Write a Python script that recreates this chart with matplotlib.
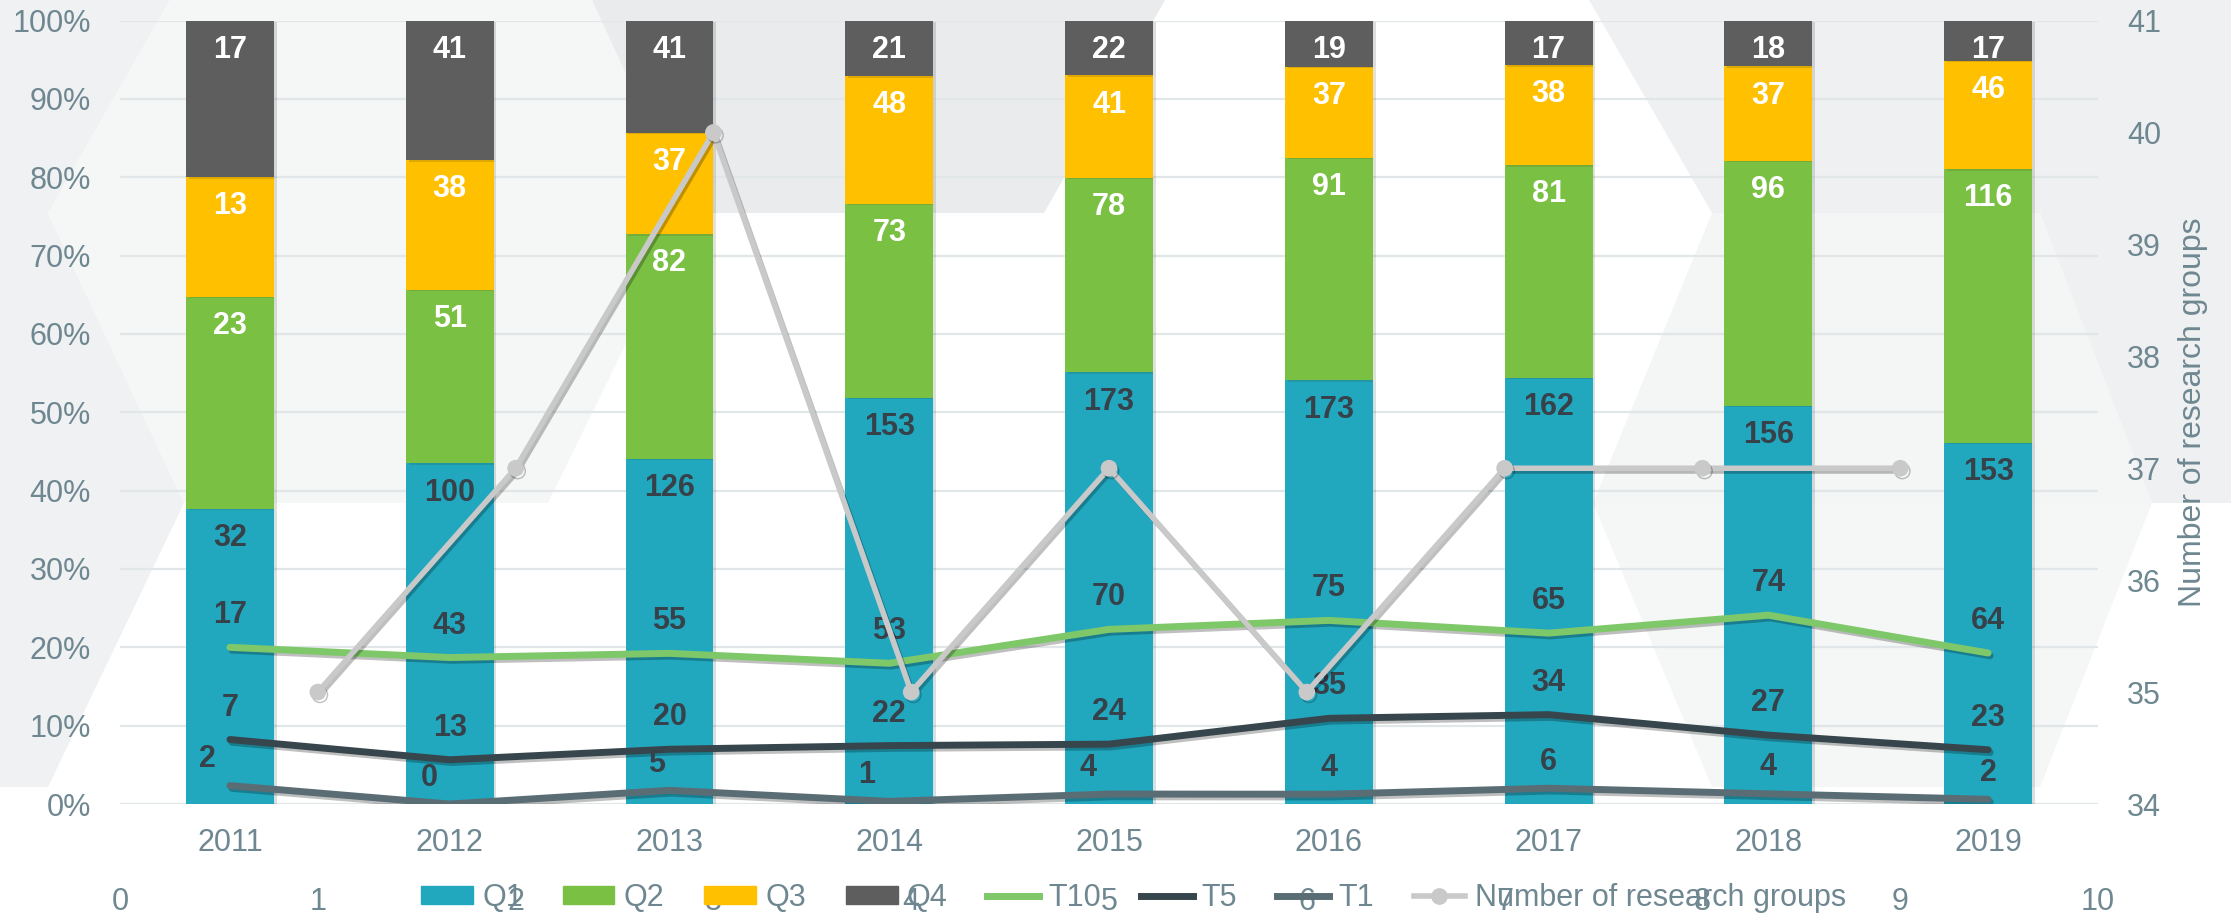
import numpy as np
import matplotlib
matplotlib.use("Agg")
import matplotlib.pyplot as plt
from matplotlib.patches import Polygon, Patch
from matplotlib.lines import Line2D
from matplotlib.ticker import PercentFormatter
from matplotlib import patheffects as pe

# data
years = ["2011", "2012", "2013", "2014", "2015", "2016", "2017", "2018", "2019"]
q1 = [32, 100, 126, 153, 173, 173, 162, 156, 153]
q2 = [23, 51, 82, 73, 78, 91, 81, 96, 116]
q3 = [13, 38, 37, 48, 41, 37, 38, 37, 46]
q4 = [17, 41, 41, 21, 22, 19, 17, 18, 17]
t10 = [17, 43, 55, 53, 70, 75, 65, 74, 64]
t5 = [7, 13, 20, 22, 24, 35, 34, 27, 23]
t1 = [2, 0, 5, 1, 4, 4, 6, 4, 2]
groups = [35, 37, 40, 35, 37, 35, 37, 37, 37]

# colours
C_Q1, C_Q2, C_Q3, C_Q4 = "#21A8BF", "#7AC043", "#FFC000", "#5E5E5E"
C_T10, C_T5, C_T1 = "#7FC86A", "#37464D", "#5A6D75"
C_GRP = "#C9C9C9"
C_TXT = "#6E8790"
C_DARK = "#37414A"

plt.rcParams['font.family'] = ['Liberation Sans', 'DejaVu Sans']

W, H = 2231, 917
fig = plt.figure(figsize=(W / 100, H / 100), dpi=100)
fig.patch.set_facecolor("white")


def bg_poly(pts, color):
    # pts in pixels, y measured from the top
    xy = [(x / W, 1 - y / H) for x, y in pts]
    fig.add_artist(Polygon(xy, closed=True, transform=fig.transFigure,
                           facecolor=color, edgecolor="none", zorder=-10))


# decorative chevrons in the background
bg_poly([(0, 0), (170, 0), (48, 213), (184, 503), (48, 787), (0, 787)], "#EFF1F3")
bg_poly([(170, 0), (592, 0), (690, 213), (548, 503), (184, 503), (48, 213)], "#F5F6F6")
bg_poly([(592, 0), (1165, 0), (1044, 213), (690, 213)], "#E9EBEC")
bg_poly([(1589, 0), (2152, 0), (2040, 213), (1712, 213)], "#EFF0F1")
bg_poly([(1712, 213), (2040, 213), (2152, 503), (1593, 503)], "#F4F5F5")
bg_poly([(2152, 0), (2231, 0), (2231, 503), (2152, 503), (2040, 213)], "#EEF0F1")
bg_poly([(1593, 503), (2152, 503), (2040, 787), (1712, 787)], "#F5F6F6")

rect = [0.0538, 0.1232, 0.8866, 0.8544]
ax = fig.add_axes(rect)
ax.patch.set_alpha(0)

x = np.arange(len(years))
total = np.array(q1) + np.array(q2) + np.array(q3) + np.array(q4)
bw = 0.4
shadow = [pe.SimplePatchShadow(offset=(2, -1), alpha=0.15), pe.Normal()]

bottom = np.zeros(len(years))
segments = [(q1, C_Q1, C_DARK), (q2, C_Q2, "white"), (q3, C_Q3, "white"), (q4, C_Q4, "white")]
for vals, col, tcol in segments:
    frac = np.array(vals) / total
    ax.bar(x, frac, bw, bottom=bottom, color=col, zorder=2, path_effects=shadow)
    top = bottom + frac
    for xi, ti, v in zip(x, top, vals):
        ax.annotate(str(v), (xi, ti), xytext=(0, -21), textcoords="offset points",
                    ha="center", va="center", fontsize=22, fontweight="bold",
                    color=tcol, zorder=6)
    bottom = top

line_fx = [pe.SimpleLineShadow(offset=(1.5, -2), alpha=0.25), pe.Normal()]
t1_dx = [-16, -15, -9, -16, -15, 0, 0, 0, 0]
for vals, col, dy, dxs in [(t10, C_T10, 23, None), (t5, C_T5, 23, None), (t1, C_T1, 19, t1_dx)]:
    frac = np.array(vals) / total
    ax.plot(x, frac, color=col, lw=5, solid_capstyle="round", solid_joinstyle="round",
            zorder=4, path_effects=line_fx)
    for i, (xi, fi, v) in enumerate(zip(x, frac, vals)):
        dx = dxs[i] if dxs else 0
        ax.annotate(str(v), (xi, fi), xytext=(dx, dy), textcoords="offset points",
                    ha="center", va="center", fontsize=22, fontweight="bold",
                    color=C_DARK, zorder=6)

ax.set_xlim(-0.5, len(years) - 0.5)
ax.set_ylim(0, 1)
ax.set_yticks(np.linspace(0, 1, 11))
ax.yaxis.set_major_formatter(PercentFormatter(1.0, decimals=0))
ax.set_xticks(x)
ax.set_xticklabels(years)
ax.grid(axis="y", color="#E1E6E9", lw=1.6, zorder=0)
ax.set_axisbelow(True)
for s in ax.spines.values():
    s.set_visible(False)
ax.tick_params(axis="both", length=0, labelsize=22, labelcolor=C_TXT)
ax.tick_params(axis="x", pad=17)
ax.tick_params(axis="y", pad=21)

# secondary axes for the number of research groups
ax2 = fig.add_axes(rect, frameon=False)
ax2.patch.set_alpha(0)
gx = np.arange(1, len(groups) + 1)
ax2.plot(gx, groups, color=C_GRP, lw=4, marker="o", ms=11, zorder=5,
         path_effects=line_fx)
ax2.set_xlim(0, 10)
ax2.set_ylim(34, 41)
ax2.set_xticks(range(0, 11))
ax2.set_yticks(range(34, 42))
ax2.yaxis.tick_right()
ax2.yaxis.set_label_position("right")
ax2.set_ylabel("Number of research groups", fontsize=23, color=C_TXT, labelpad=12)
ax2.tick_params(axis="both", length=0, labelsize=22, labelcolor=C_TXT)
ax2.tick_params(axis="x", pad=60)
ax2.tick_params(axis="y", pad=21)

handles = [
    Patch(color=C_Q1), Patch(color=C_Q2), Patch(color=C_Q3), Patch(color=C_Q4),
    Line2D([], [], color=C_T10, lw=5), Line2D([], [], color=C_T5, lw=5),
    Line2D([], [], color=C_T1, lw=5),
    Line2D([], [], color=C_GRP, lw=4, marker="o", ms=11),
]
labels = ["Q1", "Q2", "Q3", "Q4", "T10", "T5", "T1", "Number of research groups"]
fig.legend(handles, labels, loc="center", bbox_to_anchor=(0.508, 0.021), ncol=8,
           frameon=False, fontsize=22, labelcolor=C_TXT, handlelength=1.7,
           handleheight=0.55, handletextpad=0.3, columnspacing=1.3)

fig.savefig("out.png", dpi=100)
